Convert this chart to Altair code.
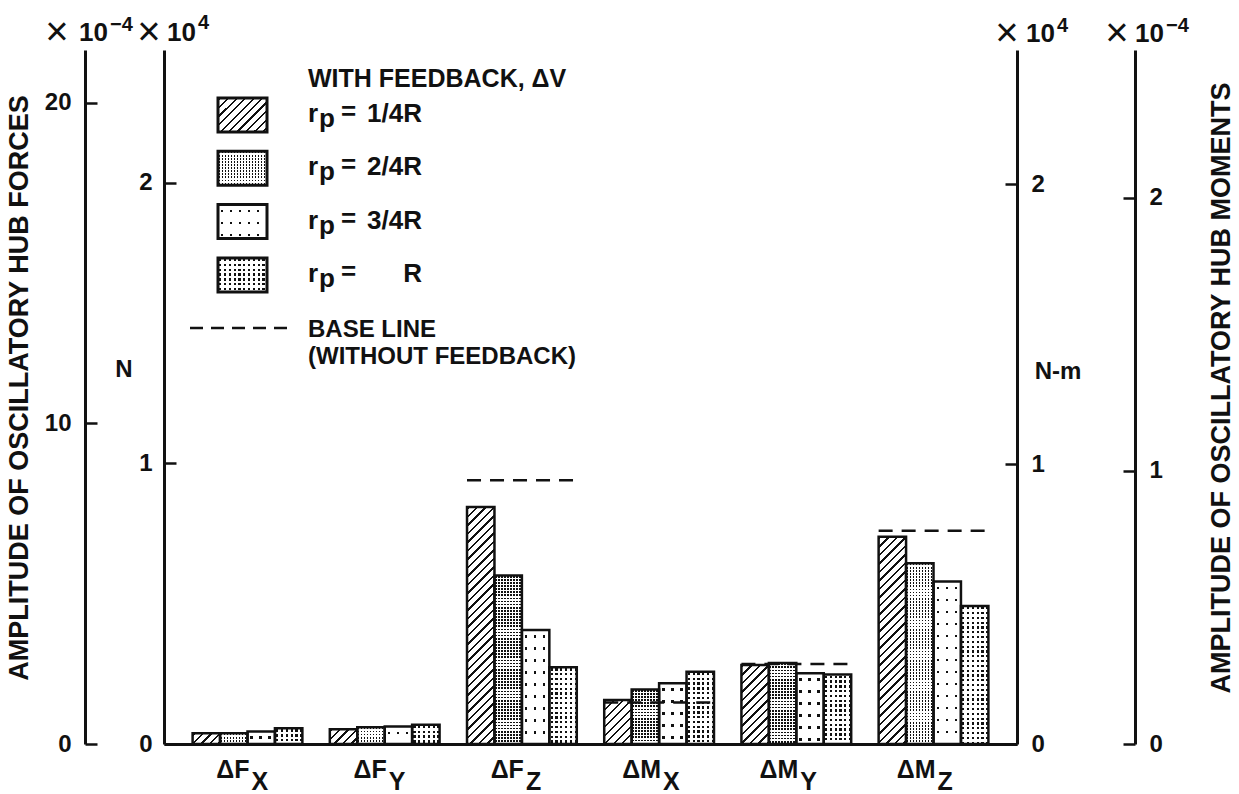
import altair as alt
import pandas as pd

# ---------------- data ----------------
categories = ["FX", "FY", "FZ", "MX", "MY", "MZ"]
cat_main = ["ΔF", "ΔF", "ΔF", "ΔM", "ΔM", "ΔM"]
cat_sub = ["X", "Y", "Z", "X", "Y", "Z"]
series = ["1/4R", "2/4R", "3/4R", "R"]
v_1_4 = [0.038, 0.053, 0.845, 0.157, 0.282, 0.739]
v_2_4 = [0.038, 0.060, 0.601, 0.194, 0.289, 0.644]
v_3_4 = [0.045, 0.062, 0.406, 0.217, 0.252, 0.579]
v_R = [0.056, 0.069, 0.274, 0.258, 0.248, 0.492]
base_line = [None, None, 0.940, 0.148, 0.285, 0.760]
force_ticks = [0, 10, 20]      # x 10^-4 (far left)
inner_ticks = [0, 1, 2]        # x 10^4 (inner axes)
moment_ticks = [0, 1, 2]       # x 10^-4 (far right)

values = {"1/4R": v_1_4, "2/4R": v_2_4, "3/4R": v_3_4, "R": v_R}
rows = []
for s in series:
    for c, v in zip(categories, values[s]):
        rows.append({"cat": c, "series": s, "v": v})
bars_df = pd.DataFrame(rows)
base_df = pd.DataFrame({"cat": categories, "b": base_line}).dropna()
lab_df = pd.DataFrame({"cat": categories, "main": cat_main, "sub": cat_sub})

# ---------------- layout ----------------
W, H = 853, 694
PAD_L, PAD_T = 164, 50
FONT = "Liberation Sans"
BLACK = "#111111"
WHITE = "#ffffff"
CLEAR = "rgba(255,255,255,0)"
YMAX = 2.474
YMAX_FL = 21.65
YMAX_IR = 2.48
YMAX_FR = 2.54
P_IN, P_OUT = 0.2, 0.2085
STEP = W / (len(categories) - P_IN + 2 * P_OUT)
BW = STEP * (1 - P_IN) / len(series)
PXU = H / YMAX


def stripe_stops(L, period, dark, on, off, phase):
    st = [(0.0, off)]
    pos = phase
    while pos < L:
        a = max(pos, 0.0) / L
        b = min(pos + dark, L) / L
        st += [(a, off), (a, on), (b, on), (b, off)]
        pos += period
    st.append((1.0, off))
    return [(round(o, 5), c) for o, c in st]


# kind, length, period, dark width, on colour, off colour, phase
PATTERNS = {
    "1/4R": [("diag", 300, 8.5, 2.3, BLACK, WHITE, 1.0)],
    "2/4R": [("vert", 60, 3.0, 1.6, BLACK, WHITE, 0.6),
             ("horiz", 260, 3.1, 1.7, CLEAR, WHITE, 0.4)],
    "3/4R": [("vert", 60, 9.0, 2.4, BLACK, WHITE, 3.0),
             ("horiz", 260, 12.0, 2.4, CLEAR, WHITE, 5.0)],
    "R": [("vert", 60, 4.8, 2.3, BLACK, WHITE, 1.2),
          ("horiz", 260, 4.8, 2.3, CLEAR, WHITE, 1.2)],
}


def grad_expr(kind, L, period, dark, on, off, phase, w, h):
    if kind == "diag":
        x2 = f"{L}*{w}/({w}*{w}+{h}*{h})"
        y2 = f"{L}*{h}/({w}*{w}+{h}*{h})"
    elif kind == "vert":
        x2, y2 = f"{L}/{w}", "0"
    else:
        x2, y2 = "0.000001", f"{L}/{h}"
    stops = ",".join("{offset:%s,color:'%s'}" % (o, c)
                     for o, c in stripe_stops(L, period, dark, on, off, phase))
    return "({gradient:'linear',x1:0,y1:0,x2:%s,y2:%s,stops:[%s]})" % (x2, y2, stops)


def grad_dict(kind, L, period, dark, on, off, phase, w, h):
    if kind == "diag":
        x2 = L * w / (w * w + h * h)
        y2 = L * h / (w * w + h * h)
    elif kind == "vert":
        x2, y2 = L / w, 0
    else:
        x2, y2 = 0.000001, L / h
    return {"gradient": "linear", "x1": 0, "y1": 0, "x2": x2, "y2": y2,
            "stops": [{"offset": o, "color": c}
                      for o, c in stripe_stops(L, period, dark, on, off, phase)]}


def yaxis(orient, offset, vals, align, pad):
    return alt.Axis(orient=orient, offset=offset, values=vals, format="d", title=None,
                    grid=False, domain=True, domainColor=BLACK, domainWidth=3,
                    ticks=True, tickColor=BLACK, tickWidth=2.5, tickSize=12,
                    labelAlign=align, labelBaseline="middle", labelPadding=pad,
                    labelFont=FONT, labelFontSize=24, labelFontWeight="bold",
                    labelColor=BLACK, labelFlush=False, labelOverlap=False)


x_scale = alt.Scale(domain=categories, paddingInner=P_IN, paddingOuter=P_OUT)
x_axis = alt.Axis(labels=False, ticks=False, domain=True, domainColor=BLACK,
                  domainWidth=3, title=None, grid=False)
x_enc = alt.X("cat:N", sort=categories, scale=x_scale, axis=x_axis)
xo_enc = alt.XOffset("series:N", sort=series,
                     scale=alt.Scale(domain=series, paddingInner=0, paddingOuter=0))
y_scale = alt.Scale(domain=[0, YMAX], nice=False, zero=True)
y_axis = yaxis("right", -W, inner_ticks, "right", -24)
y_enc = alt.Y("v:Q", scale=y_scale, axis=y_axis)

# ---------------- bars ----------------
bar_base = alt.Chart(bars_df)
bar_layers = []
w_s = f"{BW:.5f}"
h_s = f"(datum.v*{PXU:.5f})"
for s in series:
    for p in PATTERNS[s]:
        expr = grad_expr(*p, w_s, h_s)
        bar_layers.append(
            bar_base.transform_filter(alt.datum.series == s)
            .transform_calculate(g=expr)
            .mark_bar(strokeWidth=0)
            .encode(x=x_enc, xOffset=xo_enc, y=y_enc,
                    fill=alt.Fill("g:N", scale=None, legend=None))
        )
outline = bar_base.mark_bar(fill=WHITE, fillOpacity=0, stroke=BLACK,
                            strokeWidth=2.5).encode(x=x_enc, xOffset=xo_enc, y=y_enc)
baselines = alt.Chart(base_df).mark_rule(stroke=BLACK, strokeWidth=2.6,
                                         strokeDash=[14, 9]).encode(
    x=alt.X("cat:N", sort=categories, scale=x_scale, axis=x_axis, bandPosition=0),
    x2=alt.X2("cat", bandPosition=1),
    y=alt.Y("b:Q", scale=y_scale, axis=y_axis),
)
bars_group = alt.layer(*bar_layers, outline, baselines)

# ---------------- extra axes ----------------
far_left = alt.Chart(pd.DataFrame({"t": force_ticks})).mark_point(opacity=0).encode(
    y=alt.Y("t:Q", scale=alt.Scale(domain=[0, YMAX_FL], nice=False),
            axis=yaxis("right", -(W + 79), force_ticks, "right", -26)))
inner_right = alt.Chart(pd.DataFrame({"t": inner_ticks})).mark_point(opacity=0).encode(
    y=alt.Y("t:Q", scale=alt.Scale(domain=[0, YMAX_IR], nice=False),
            axis=yaxis("left", -W, inner_ticks, "left", -26)))
far_right = alt.Chart(pd.DataFrame({"t": moment_ticks})).mark_point(opacity=0).encode(
    y=alt.Y("t:Q", scale=alt.Scale(domain=[0, YMAX_FR], nice=False),
            axis=yaxis("left", -(W + 118), moment_ticks, "left", -26)))

# ---------------- texts ----------------
one = alt.Data(values=[{"a": 1}])


def txt(s, px, py, size=24, weight="bold", align="left", angle=0, baseline="alphabetic"):
    return alt.Chart(one).mark_text(text=s, fontSize=size, fontWeight=weight, font=FONT,
                                    align=align, baseline=baseline, angle=angle,
                                    color=BLACK).encode(
        x=alt.value(px - PAD_L), y=alt.value(py - PAD_T))


lab_main = alt.Chart(lab_df).mark_text(font=FONT, fontSize=25, fontWeight="bold",
                                       align="right", dx=2, baseline="alphabetic",
                                       color=BLACK).encode(
    x=x_enc, y=alt.value(H + 34), text="main:N")
lab_sub = alt.Chart(lab_df).mark_text(font=FONT, fontSize=25, fontWeight="bold",
                                      align="left", dx=4, baseline="alphabetic",
                                      color=BLACK).encode(
    x=x_enc, y=alt.value(H + 46), text="sub:N")

texts = [
    txt("AMPLITUDE OF OSCILLATORY HUB FORCES", 20, 388, size=27, angle=270,
        align="center", baseline="middle"),
    txt("AMPLITUDE OF OSCILLATORY HUB MOMENTS", 1222, 388, size=27, angle=270,
        align="center", baseline="middle"),
    txt("N", 124, 370, size=24, align="center", baseline="middle"),
    txt("N-m", 1058, 372, size=24, align="center", baseline="middle"),
    # multipliers
    txt("×", 57, 45, size=40, weight="normal", align="center"),
    txt("10", 79, 41, size=26),
    txt("−4", 110, 31, size=20),
    txt("×", 149, 45, size=40, weight="normal", align="center"),
    txt("10", 167, 41, size=26),
    txt("4", 198, 29, size=20),
    txt("×", 1007, 46, size=40, weight="normal", align="center"),
    txt("10", 1026, 42, size=26),
    txt("4", 1057, 32, size=20),
    txt("×", 1117, 46, size=40, weight="normal", align="center"),
    txt("10", 1135, 42, size=26),
    txt("−4", 1166, 32, size=20),
    # legend
    txt("WITH FEEDBACK, ΔV", 308, 87, size=25),
    txt("BASE LINE", 308, 337, size=24),
    txt("(WITHOUT FEEDBACK)", 308, 364, size=24),
]

legend_layers = []
SW_X0, SW_X1, SW_TOP, SW_STEP, SW_H = 218, 267, 98, 53.3, 34
for i, s in enumerate(series):
    top = SW_TOP + i * SW_STEP
    enc = dict(x=alt.value(SW_X0 - PAD_L), x2=alt.value(SW_X1 - PAD_L),
               y=alt.value(top - PAD_T), y2=alt.value(top + SW_H - PAD_T))
    for p in PATTERNS[s]:
        legend_layers.append(alt.Chart(one).mark_rect(
            fill=grad_dict(*p, SW_X1 - SW_X0, SW_H), strokeWidth=0).encode(**enc))
    legend_layers.append(alt.Chart(one).mark_rect(
        fill=WHITE, fillOpacity=0, stroke=BLACK, strokeWidth=3).encode(**enc))
    base_y = top + 24
    legend_layers += [
        txt("r", 308, base_y, size=26),
        txt("p", 319, base_y + 5, size=26),
        txt("=", 341, base_y - 2, size=26),
        txt(s, 422, base_y, size=26, align="right"),
    ]
legend_layers.append(alt.Chart(one).mark_rule(stroke=BLACK, strokeWidth=2.6,
                                              strokeDash=[13, 8]).encode(
    x=alt.value(190 - PAD_L), x2=alt.value(292 - PAD_L), y=alt.value(328 - PAD_T)))

chart = alt.layer(
    bars_group, far_left, inner_right, far_right, lab_main, lab_sub,
    *texts, *legend_layers
).resolve_scale(y="independent").properties(
    width=W, height=H,
    autosize=alt.AutoSizeParams(type="none"),
    padding={"left": PAD_L, "top": PAD_T, "right": 1239 - PAD_L - W,
             "bottom": 794 - PAD_T - H},
    background="white",
).configure_view(stroke=None)

chart.save("out.html", embed_options={"renderer": "svg", "actions": False})
